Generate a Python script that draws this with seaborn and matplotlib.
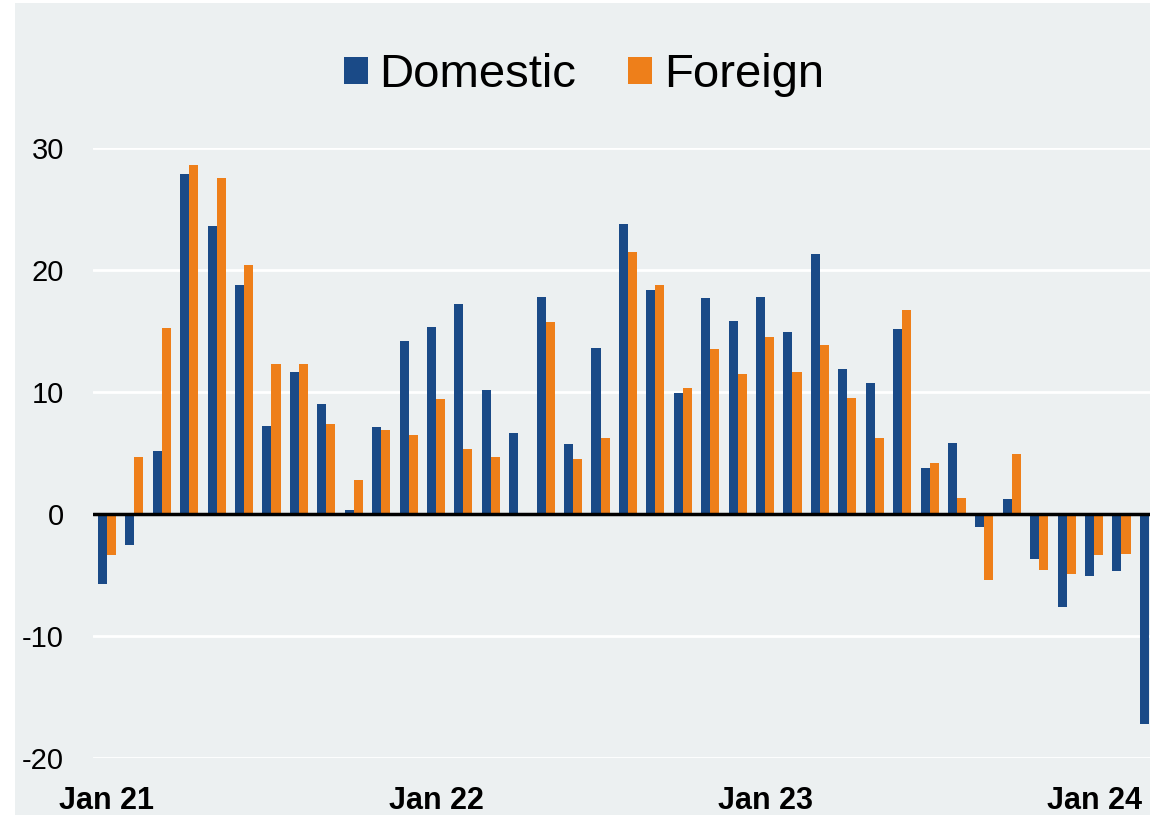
import numpy as np
import pandas as pd
import matplotlib
matplotlib.use("Agg")
import matplotlib.pyplot as plt
import seaborn as sns
from matplotlib.patches import Rectangle, Patch

months = pd.date_range("2021-01-01", periods=39, freq="MS").strftime("%b %y").tolist()
domestic = [-5.7, -2.5, 5.2, 27.9, 23.6, 18.8, 7.2, 11.6, 9.0, 0.35,
            7.1, 14.2, 15.3, 17.2, 10.2, 6.6, 17.8, 5.7, 13.6, 23.8,
            18.4, 9.9, 17.7, 15.8, 17.8, 14.9, 21.3, 11.9, 10.7, 15.2,
            3.8, 5.85, -1.1, 1.25, -3.7, -7.65, -5.1, -4.65, -17.2]
foreign = [-3.35, 4.7, 15.25, 28.6, 27.5, 20.4, 12.3, 12.3, 7.4, 2.8,
           6.9, 6.5, 9.4, 5.35, 4.7, 0.1, 15.7, 4.5, 6.25, 21.5,
           18.8, 10.3, 13.5, 11.5, 14.5, 11.65, 13.85, 9.5, 6.2, 16.75,
           4.2, 1.35, -5.4, 4.9, -4.55, -4.9, -3.4, -3.3, np.nan]
series_names = ["Domestic", "Foreign"]
tick_labels = ["Jan 21", "Jan 22", "Jan 23", "Jan 24"]
tick_months = ["Jan 21", "Jan 22", "Jan 23", "Jan 24"]
y_ticks = [-20, -10, 0, 10, 20, 30]

BLUE = "#1A4A87"
ORANGE = "#EE7F1A"
BG = "#ECF0F1"

df = pd.DataFrame({
    "month": months * 2,
    "series": [series_names[0]] * len(months) + [series_names[1]] * len(months),
    "value": domestic + foreign,
}).dropna()

sns.set_style("white")
plt.rcParams["font.family"] = ["Liberation Sans", "DejaVu Sans"]
plt.rcParams["text.color"] = "black"
plt.rcParams["xtick.color"] = "black"
plt.rcParams["ytick.color"] = "black"

fig = plt.figure(figsize=(11.5, 8.15), dpi=100, facecolor="white")
fig.patches.append(Rectangle((15 / 1150, 0), 1 - 15 / 1150, (815 - 3) / 815,
                             transform=fig.transFigure, facecolor=BG,
                             edgecolor="none", zorder=-10))
ax = fig.add_axes([93 / 1150, 1 - 758 / 815, 1057 / 1150, (758 - 148) / 815])
ax.set_facecolor(BG)

sns.barplot(data=df, x="month", y="value", hue="series", order=months,
            hue_order=series_names, palette=[BLUE, ORANGE], width=0.66,
            saturation=1, linewidth=0, errorbar=None, legend=False, ax=ax)

ax.set_xlim(-0.51, 38.04)
ax.set_ylim(-20, 30)
ax.set_yticks(y_ticks)
ax.set_yticklabels([str(v) for v in y_ticks], fontsize=21, color="black")
ax.set_xticks([months.index(m) for m in tick_months])
ax.set_xticklabels(tick_labels, fontsize=22, fontweight="bold", color="black")
ax.tick_params(axis="y", length=0, pad=21)
ax.tick_params(axis="x", length=0, pad=20)
ax.set_xlabel("")
ax.set_ylabel("")
for s in ax.spines.values():
    s.set_visible(False)
ax.yaxis.grid(True, color="white", linewidth=2)
ax.xaxis.grid(False)
ax.set_axisbelow(True)
ax.axhline(0, color="black", linewidth=2.5, zorder=5)

handles = [Patch(facecolor=BLUE, edgecolor="none"), Patch(facecolor=ORANGE, edgecolor="none")]
leg = fig.legend(handles, series_names, loc="center", bbox_to_anchor=(584 / 1150, 1 - 75 / 815),
                 ncol=2, frameon=False, fontsize=34, handlelength=0.5, handleheight=0.5,
                 handletextpad=0.25, columnspacing=1.1)
for t in leg.get_texts():
    t.set_color("black")

fig.savefig("out.png", dpi=100, facecolor=fig.get_facecolor())
